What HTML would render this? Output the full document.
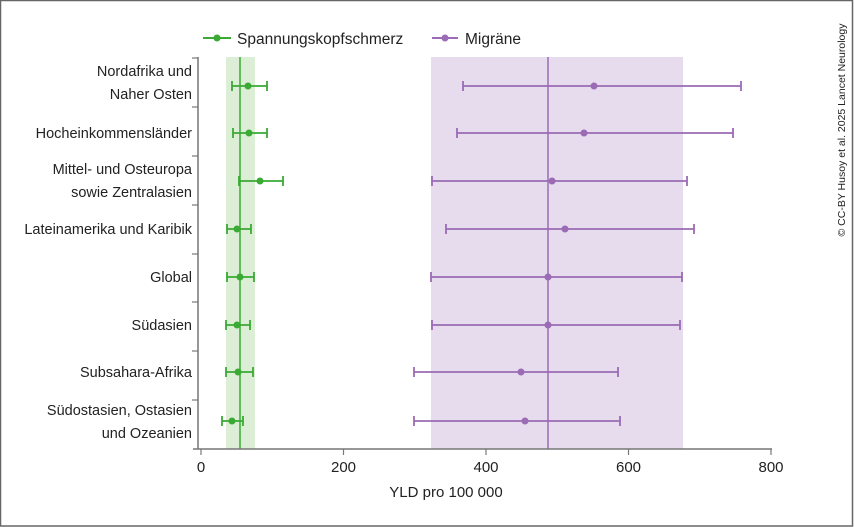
<!DOCTYPE html>
<html><head><meta charset="utf-8"><style>
html,body{margin:0;padding:0;background:#fff}
svg{display:block}
text{font-family:"Liberation Sans",sans-serif;fill:#222}
</style></head><body>
<svg width="854" height="527" viewBox="0 0 854 527">
<rect x="0.5" y="0.5" width="852" height="525.5" fill="#fff" stroke="#666" stroke-width="1.5"/>
<text transform="translate(845,130) rotate(-90)" text-anchor="middle" font-size="10.5">© CC-BY Husoy et al. 2025 Lancet Neurology</text>
<!-- legend -->
<line x1="203" y1="38" x2="231" y2="38" stroke="#3aaa35" stroke-width="2"/><circle cx="217" cy="38" r="3.5" fill="#3aaa35"/>
<text x="237" y="44" font-size="15.5">Spannungskopfschmerz</text>
<line x1="432" y1="38" x2="458" y2="38" stroke="#9b6bb5" stroke-width="2"/><circle cx="445" cy="38" r="3.5" fill="#9b6bb5"/>
<text x="465" y="44" font-size="15.5">Migräne</text>
<!-- shades -->
<rect x="226" y="57" width="29" height="392" fill="#dcefd6"/>
<rect x="431" y="57" width="252" height="392" fill="#e6dced"/>
<line x1="240" y1="57" x2="240" y2="449" stroke="#3aaa35" stroke-width="1.5"/>
<line x1="548" y1="57" x2="548" y2="449" stroke="#9b6bb5" stroke-width="1.5"/>
<!-- axes -->
<line x1="198" y1="57" x2="198" y2="449" stroke="#777" stroke-width="1.5"/>
<line x1="193" y1="449" x2="772" y2="449" stroke="#777" stroke-width="1.5"/>
<g stroke="#777" stroke-width="1.2">
<line x1="192" y1="58" x2="198" y2="58"/><line x1="192" y1="107" x2="198" y2="107"/><line x1="192" y1="156" x2="198" y2="156"/><line x1="192" y1="205" x2="198" y2="205"/><line x1="192" y1="254" x2="198" y2="254"/><line x1="192" y1="302" x2="198" y2="302"/><line x1="192" y1="351" x2="198" y2="351"/><line x1="192" y1="400" x2="198" y2="400"/>
<line x1="201" y1="449" x2="201" y2="455"/><line x1="343.5" y1="449" x2="343.5" y2="455"/><line x1="486" y1="449" x2="486" y2="455"/><line x1="628.5" y1="449" x2="628.5" y2="455"/><line x1="771" y1="449" x2="771" y2="455"/>
</g>
<g font-size="15" text-anchor="middle">
<text x="201" y="472">0</text><text x="343.5" y="472">200</text><text x="486" y="472">400</text><text x="628.5" y="472">600</text><text x="771" y="472">800</text>
<text x="446" y="497">YLD pro 100 000</text>
</g>
<g font-size="14.5" text-anchor="end">
<text x="192" y="76">Nordafrika und</text><text x="192" y="99">Naher Osten</text>
<text x="192" y="138">Hocheinkommensländer</text>
<text x="192" y="174">Mittel- und Osteuropa</text><text x="192" y="197">sowie Zentralasien</text>
<text x="192" y="234">Lateinamerika und Karibik</text>
<text x="192" y="282">Global</text>
<text x="192" y="330">Südasien</text>
<text x="192" y="377">Subsahara-Afrika</text>
<text x="192" y="415">Südostasien, Ostasien</text><text x="192" y="438">und Ozeanien</text>
</g>
<g stroke="#3aaa35" stroke-width="1.8" fill="#3aaa35">
<path d="M232 86H267M232 81V91M267 81V91"/><circle cx="248" cy="86" r="3.5" stroke="none"/>
<path d="M233 133H267M233 128V138M267 128V138"/><circle cx="249" cy="133" r="3.5" stroke="none"/>
<path d="M239 181H283M239 176V186M283 176V186"/><circle cx="260" cy="181" r="3.5" stroke="none"/>
<path d="M227 229H251M227 224V234M251 224V234"/><circle cx="237" cy="229" r="3.5" stroke="none"/>
<path d="M227 277H254M227 272V282M254 272V282"/><circle cx="240" cy="277" r="3.5" stroke="none"/>
<path d="M226 325H250M226 320V330M250 320V330"/><circle cx="237" cy="325" r="3.5" stroke="none"/>
<path d="M226 372H253M226 367V377M253 367V377"/><circle cx="238" cy="372" r="3.5" stroke="none"/>
<path d="M222 421H243M222 416V426M243 416V426"/><circle cx="232" cy="421" r="3.5" stroke="none"/>
</g>
<g stroke="#9b6bb5" stroke-width="1.8" fill="#9b6bb5">
<path d="M463 86H741M463 81V91M741 81V91"/><circle cx="594" cy="86" r="3.5" stroke="none"/>
<path d="M457 133H733M457 128V138M733 128V138"/><circle cx="584" cy="133" r="3.5" stroke="none"/>
<path d="M432 181H687M432 176V186M687 176V186"/><circle cx="552" cy="181" r="3.5" stroke="none"/>
<path d="M446 229H694M446 224V234M694 224V234"/><circle cx="565" cy="229" r="3.5" stroke="none"/>
<path d="M431 277H682M431 272V282M682 272V282"/><circle cx="548" cy="277" r="3.5" stroke="none"/>
<path d="M432 325H680M432 320V330M680 320V330"/><circle cx="548" cy="325" r="3.5" stroke="none"/>
<path d="M414 372H618M414 367V377M618 367V377"/><circle cx="521" cy="372" r="3.5" stroke="none"/>
<path d="M414 421H620M414 416V426M620 416V426"/><circle cx="525" cy="421" r="3.5" stroke="none"/>
</g>
</svg>
</body></html>
